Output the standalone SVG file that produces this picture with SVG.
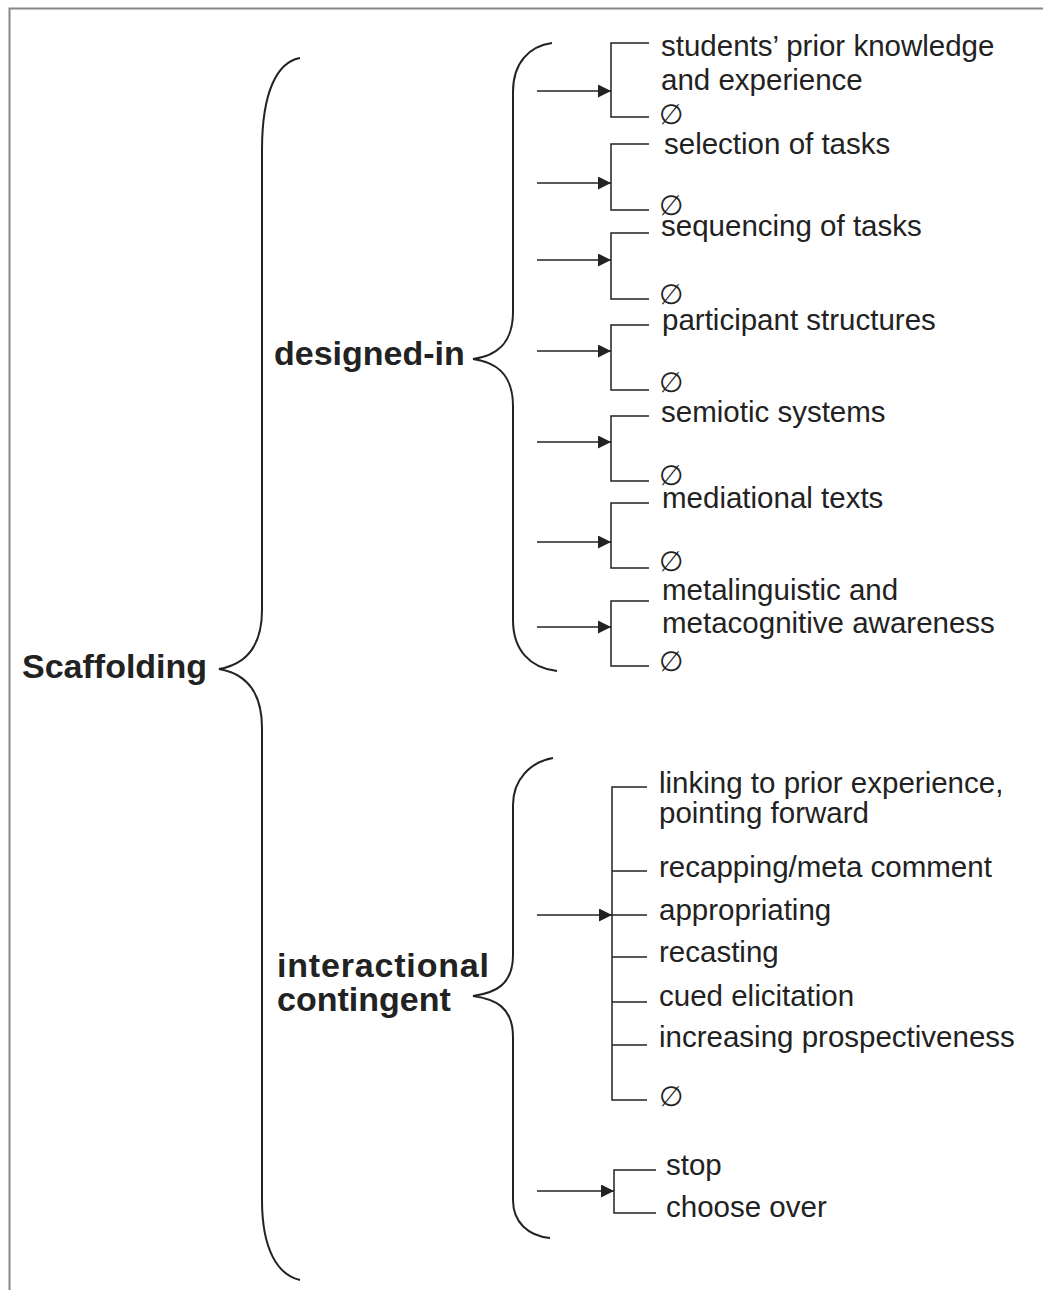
<svg xmlns="http://www.w3.org/2000/svg" width="1043" height="1290" viewBox="0 0 1043 1290">
<defs>
<marker id="ah" markerUnits="userSpaceOnUse" markerWidth="14" markerHeight="14" refX="13" refY="6.5" orient="auto">
<path d="M0,0 L13,6.5 L0,13 Z" fill="#222"/>
</marker>
<style>
.t{font-family:"Liberation Sans",Arial,sans-serif;font-size:29.5px;fill:#222}
.e{font-family:"Liberation Sans",Arial,sans-serif;font-size:28px;fill:#222}
.b{font-family:"Liberation Sans",Arial,sans-serif;font-size:34px;font-weight:bold;fill:#222}
.ln{fill:none;stroke:#222;stroke-width:1.5}
.br{fill:none;stroke:#222;stroke-width:2}
.ar{fill:none;stroke:#222;stroke-width:1.5;marker-end:url(#ah)}
</style>
</defs>
<rect width="1043" height="1290" fill="#fff"/>
<path d="M9.5,1290 V8.5 H1043" fill="none" stroke="#888" stroke-width="2"/>

<g id="scaffolding">
<text class="b" x="22" y="678">Scaffolding</text>
</g>
<g id="designed-in">
<text class="b" x="274" y="365">designed-in</text>
</g>
<g id="interactional-contingent">
<text class="b" x="277" y="977" textLength="212">interactional</text>
<text class="b" x="277" y="1011">contingent</text>
</g>

<g id="braces">
<path class="br" d="M300,58 C278,62 262,90 262,150 V610 C262,650 242,665 219,669 C242,673 262,688 262,728 V1200 C262,1250 278,1275 300,1280"/>
<path class="br" d="M552,43 C530,46 513,62 513,92 V312 C513,345 495,356 473,359 C495,362 513,373 513,406 V620 C513,650 530,668 557,671"/>
<path class="br" d="M553,758 C530,762 513,780 513,805 V955 C513,985 495,993 473,996 C495,999 513,1007 513,1037 V1200 C513,1222 528,1236 550,1238"/>
</g>

<g id="connectors">
<line class="ar" x1="537" y1="91" x2="611" y2="91"/>
<path class="ln" d="M649,43 H611 V117 H649"/>
<line class="ar" x1="537" y1="183" x2="611" y2="183"/>
<path class="ln" d="M649,144 H611 V210 H649"/>
<line class="ar" x1="537" y1="260" x2="611" y2="260"/>
<path class="ln" d="M649,233 H611 V299 H649"/>
<line class="ar" x1="537" y1="351" x2="611" y2="351"/>
<path class="ln" d="M649,325 H611 V390 H649"/>
<line class="ar" x1="537" y1="442" x2="611" y2="442"/>
<path class="ln" d="M649,416 H611 V481 H649"/>
<line class="ar" x1="537" y1="542" x2="611" y2="542"/>
<path class="ln" d="M649,503 H611 V568 H649"/>
<line class="ar" x1="537" y1="627" x2="611" y2="627"/>
<path class="ln" d="M649,601 H611 V666 H649"/>

<line class="ar" x1="537" y1="915" x2="612" y2="915"/>
<path class="ln" d="M647,787 H612 V1100 H647 M612,871 H647 M612,915 H647 M612,957 H647 M612,1002 H647 M612,1045 H647"/>

<line class="ar" x1="537" y1="1191" x2="614" y2="1191"/>
<path class="ln" d="M656,1170 H614 V1213 H656"/>
</g>

<g id="designed-items">
<text class="t" x="661" y="56">students’ prior knowledge</text>
<text class="t" x="661" y="90">and experience</text>
<text class="e" x="659" y="124">∅</text>
<text class="t" x="664" y="154">selection of tasks</text>
<text class="e" x="659" y="215">∅</text>
<text class="t" x="661" y="236">sequencing of tasks</text>
<text class="e" x="659" y="304">∅</text>
<text class="t" x="662" y="330">participant structures</text>
<text class="e" x="659" y="392">∅</text>
<text class="t" x="661" y="422">semiotic systems</text>
<text class="e" x="659" y="485">∅</text>
<text class="t" x="662" y="508">mediational texts</text>
<text class="e" x="659" y="571">∅</text>
<text class="t" x="662" y="600">metalinguistic and</text>
<text class="t" x="662" y="633">metacognitive awareness</text>
<text class="e" x="659" y="671">∅</text>
</g>

<g id="interactional-items">
<text class="t" x="659" y="793">linking to prior experience,</text>
<text class="t" x="659" y="823">pointing forward</text>
<text class="t" x="659" y="877">recapping/meta comment</text>
<text class="t" x="659" y="920">appropriating</text>
<text class="t" x="659" y="962">recasting</text>
<text class="t" x="659" y="1006">cued elicitation</text>
<text class="t" x="659" y="1047">increasing prospectiveness</text>
<text class="e" x="659" y="1106">∅</text>
</g>

<g id="choice-items">
<text class="t" x="666" y="1175">stop</text>
<text class="t" x="666" y="1217">choose over</text>
</g>
</svg>
